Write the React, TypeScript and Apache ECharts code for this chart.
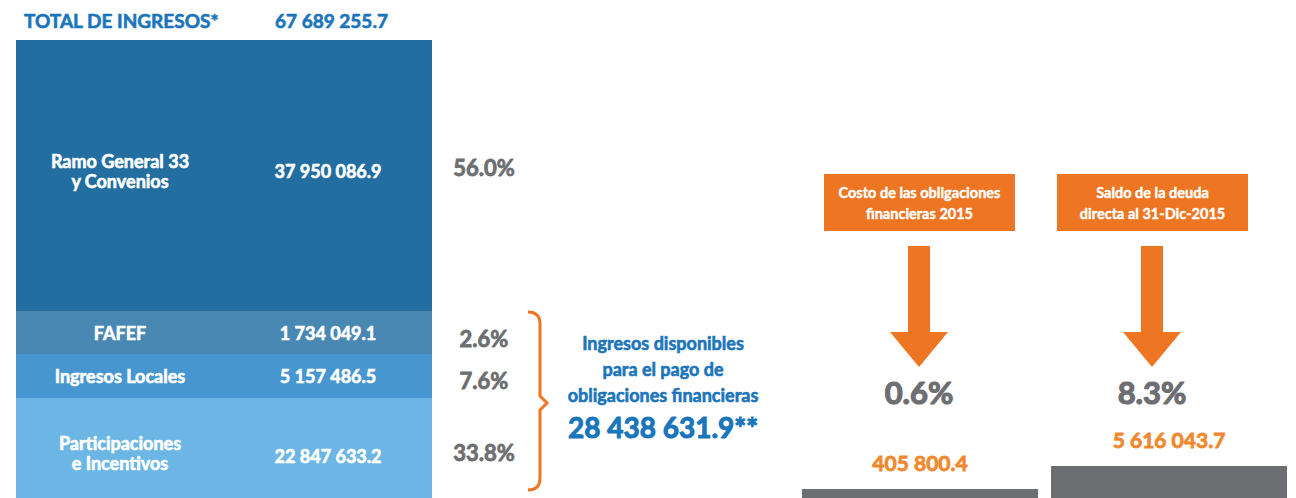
import React, { useEffect, useRef } from "react";
import * as echarts from "echarts";

// ---- Data ----
const conceptos = ["Ramo General 33\ny Convenios", "FAFEF", "Ingresos Locales", "Participaciones\ne Incentivos"];
const montos = [37950086.9, 1734049.1, 5157486.5, 22847633.2];
const porcentajes = [56.0, 2.6, 7.6, 33.8];
const totalIngresos = 67689255.7;
const ingresosDisponibles = 28438631.9;
const obligacionesTitulos = ["Costo de las obligaciones\nfinancieras 2015", "Saldo de la deuda\ndirecta al 31-Dic-2015"];
const obligacionesMontos = [405800.4, 5616043.7];
const obligacionesPct = [0.6, 8.3];

// ---- Layout / style (not data) ----
const blockHeights = [271, 43, 44, 100];
const blockColors = ["#226ea0", "#4a88b4", "#4896d0", "#6bb6e4"];
const nameDy = [-5, 0, 0, 5];
const valueDy = [-5, 0, 0, 8];
const pctDy = [-8, 6, 4, 4];
const FONT = "Lato";
const W = "bold";
const BLUE = "#1b75bb";
const GRAY = "#6d6e71";
const ORANGE = "#ee7623";
const ORANGE_TXT = "#f0892e";
const heavy = (c: string, w = 0.7) => ({ textBorderColor: c, textBorderWidth: w });

const fmt = (v: number) => {
  const [i, d] = v.toFixed(1).split(".");
  return i.replace(/\B(?=(\d{3})+(?!\d))/g, " ") + "." + d;
};

const BRACE = "M528,312 Q540,312 540,324 L540,396 L547,403 L540,410 L540,478 Q540,490 528,490";
echarts.graphic.registerShape("brace", echarts.graphic.extendPath(BRACE, {}));

export default function App() {
  const ref = useRef<HTMLDivElement>(null);
  useEffect(() => {
    if (!ref.current) return;
    const chart = echarts.init(ref.current, undefined, { renderer: "svg" });

    const blockSeries = conceptos.map((c, i) => ({
      type: "bar",
      stack: "ingresos",
      name: c,
      xAxisIndex: 0,
      yAxisIndex: 0,
      barWidth: "100%",
      silent: true,
      data: [
        {
          value: blockHeights[i],
          itemStyle: { color: blockColors[i] },
          label: {
            show: true, position: "inside", formatter: c, color: "#fff",
            fontFamily: FONT, fontWeight: W, fontSize: 18, lineHeight: 20,
            offset: [0, nameDy[i]], ...heavy("#fff", 0.6),
          },
        },
        {
          value: blockHeights[i],
          itemStyle: { color: blockColors[i] },
          label: {
            show: true, position: "inside", formatter: fmt(montos[i]), color: "#fff",
            fontFamily: FONT, fontWeight: W, fontSize: 18,
            offset: [0, valueDy[i]], ...heavy("#fff", 0.6),
          },
        },
        {
          value: blockHeights[i],
          itemStyle: { color: "rgba(0,0,0,0)" },
          label: {
            show: true, position: "inside", formatter: porcentajes[i].toFixed(1) + "%", color: GRAY,
            fontFamily: FONT, fontWeight: W, fontSize: 22,
            offset: [-52, pctDy[i]], ...heavy(GRAY, 0.8),
          },
        },
      ],
    }));

    const arrow = (cx: number) => ({
      type: "polygon",
      shape: {
        points: [
          [cx - 11, 246], [cx + 11, 246], [cx + 11, 332], [cx + 29, 332],
          [cx, 367], [cx - 29, 332], [cx - 11, 332],
        ],
      },
      style: { fill: ORANGE },
    });

    const boxX = [824, 1057];
    const arrowX = [919, 1152];

    const graphics: any[] = [
      { type: "text", x: 24, y: 20, style: { text: "TOTAL DE INGRESOS*", fill: BLUE, fontFamily: FONT, fontWeight: W, fontSize: 19, verticalAlign: "middle", stroke: BLUE, lineWidth: 0.6 } },
      { type: "text", x: 275, y: 20, style: { text: fmt(totalIngresos), fill: BLUE, fontFamily: FONT, fontWeight: W, fontSize: 19, verticalAlign: "middle", stroke: BLUE, lineWidth: 0.6 } },
      { type: "brace", x: 0, y: 0, style: { stroke: ORANGE, lineWidth: 3, fill: "none" } },
      { type: "text", x: 663, y: 369, style: { text: "Ingresos disponibles\npara el pago de\nobligaciones financieras", fill: BLUE, fontFamily: FONT, fontWeight: W, fontSize: 18, lineHeight: 26, align: "center", verticalAlign: "middle", stroke: BLUE, lineWidth: 0.6 } },
      { type: "text", x: 663, y: 427, style: { text: fmt(ingresosDisponibles) + "**", fill: BLUE, fontFamily: FONT, fontWeight: W, fontSize: 28, align: "center", verticalAlign: "middle", stroke: BLUE, lineWidth: 1 } },
    ];
    obligacionesTitulos.forEach((t, i) => {
      graphics.push({ type: "rect", shape: { x: boxX[i], y: 174, width: 191, height: 57 }, style: { fill: ORANGE } });
      graphics.push({ type: "text", x: boxX[i] + 95.5, y: 202.5, style: { text: t, fill: "#fff", fontFamily: FONT, fontWeight: W, fontSize: 14.5, lineHeight: 21, align: "center", verticalAlign: "middle", stroke: "#fff", lineWidth: 0.4 } });
      graphics.push(arrow(arrowX[i]));
      graphics.push({ type: "text", x: arrowX[i], y: 392, style: { text: obligacionesPct[i].toFixed(1) + "%", fill: GRAY, fontFamily: FONT, fontWeight: W, fontSize: 31, align: "center", verticalAlign: "middle", stroke: GRAY, lineWidth: 1.2 } });
    });

    chart.setOption({
      animation: false,
      grid: [
        { left: 16, top: 40, width: 624, height: 458 },
        { left: 795.5, top: 437.5, width: 498, height: 60.5 },
      ],
      xAxis: [
        { type: "category", gridIndex: 0, data: ["concepto", "monto", "porcentaje"], show: false },
        { type: "category", gridIndex: 1, data: obligacionesTitulos, show: false },
      ],
      yAxis: [
        { type: "value", gridIndex: 0, min: 0, max: 458, inverse: true, show: false },
        { type: "log", gridIndex: 1, min: 145200, max: 145200000, show: false },
      ],
      series: [
        ...blockSeries,
        {
          type: "bar",
          xAxisIndex: 1,
          yAxisIndex: 1,
          barWidth: 236,
          silent: true,
          data: obligacionesMontos,
          itemStyle: { color: GRAY },
          label: {
            show: true, position: "top", distance: 16,
            formatter: (p: any) => fmt(p.value),
            color: ORANGE_TXT, fontFamily: FONT, fontWeight: W, fontSize: 21,
            ...heavy(ORANGE_TXT, 0.8),
          },
        },
      ],
      graphic: graphics,
    });
    return () => chart.dispose();
  }, []);
  return <div ref={ref} style={{ position: "absolute", left: 0, top: 0, width: 1296, height: 498 }} />;
}
